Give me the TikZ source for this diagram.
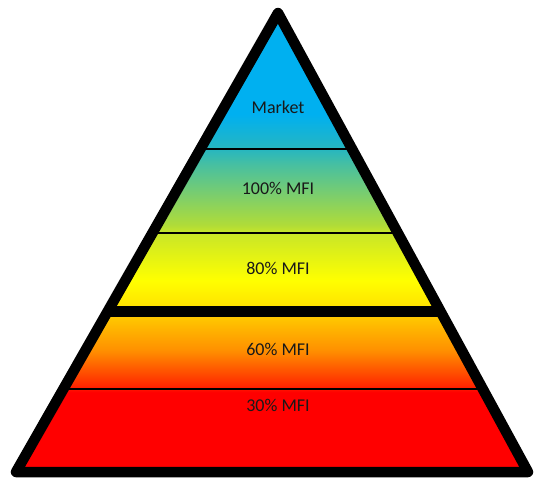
\documentclass[tikz,border=0pt]{standalone}
\usepackage{fontspec}
\setmainfont{Carlito}
\definecolor{cBlue}{HTML}{00B0F0}
\definecolor{cTeal}{HTML}{26B6C0}
\definecolor{cTealG}{HTML}{48C0A0}
\definecolor{cLime}{HTML}{B0DC38}
\definecolor{cYelG}{HTML}{C8E628}
\definecolor{cYel}{HTML}{FFFF00}
\definecolor{cGold}{HTML}{FFE400}
\definecolor{cOrT}{HTML}{FFC800}
\definecolor{cOrM}{HTML}{FF9000}
\definecolor{cOrB}{HTML}{FF2800}
\definecolor{cRed}{HTML}{FF0000}
\pgfdeclareverticalshading{pyr}{100bp}{color(0bp)=(cRed); color(33.9bp)=(cRed); color(34.6bp)=(cOrB); color(38.3bp)=(cOrM); color(41.8bp)=(cOrT); color(43.0bp)=(cGold); color(45.6bp)=(cYel); color(50.6bp)=(cYelG); color(51.4bp)=(cLime); color(57.7bp)=(cTealG); color(59.4bp)=(cTeal); color(63bp)=(cBlue); color(100bp)=(cBlue)}
\tikzset{
  lbl/.style={font=\fontsize{18}{21}\selectfont, text=black!90, inner sep=0pt},
  thinsep/.style={draw=black, line width=2.5pt},
  thicksep/.style={draw=black, line width=11pt},
  outline/.style={draw=black, line width=10.5pt, line join=round}
}
\begin{document}
\begin{tikzpicture}[x=1pt,y=-1pt]
\useasboundingbox (0,0) rectangle (535,477);
\coordinate (A) at (278,13);
\coordinate (L) at (16,472);
\coordinate (R) at (528,472);
\begin{scope}
\clip (A) -- (L) -- (R) -- cycle;
\shade[shading=pyr] (0,0) rectangle (535,477);
\coordinate (s1l) at (0,149); \coordinate (s1r) at (535,149);
\coordinate (s2l) at (0,233); \coordinate (s2r) at (535,233);
\coordinate (s3l) at (0,311); \coordinate (s3r) at (535,311);
\coordinate (s4l) at (0,389); \coordinate (s4r) at (535,389);
\draw[thinsep] (s1l) -- (s1r);
\draw[thinsep] (s2l) -- (s2r);
\draw[thicksep] (s3l) -- (s3r);
\draw[thinsep] (s4l) -- (s4r);
\end{scope}
\draw[outline] (A) -- (L) -- (R) -- cycle;
\node[lbl] (market) at (278,107) {Market};
\node[lbl] (m100) at (278,188) {100\% MFI};
\node[lbl] (m80) at (278,268) {80\% MFI};
\node[lbl] (m60) at (278,349) {60\% MFI};
\node[lbl] (m30) at (278,405) {30\% MFI};
\end{tikzpicture}
\end{document}
